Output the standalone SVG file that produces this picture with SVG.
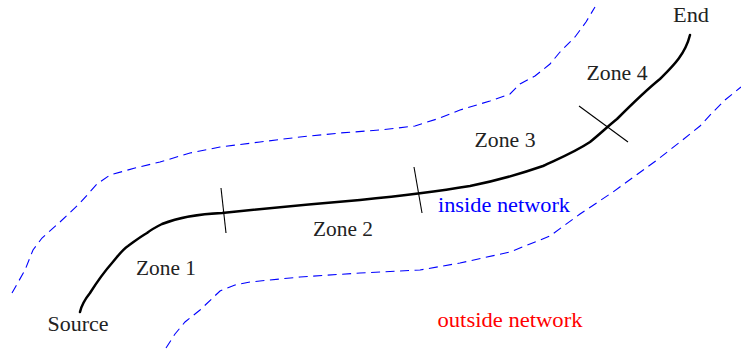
<svg xmlns="http://www.w3.org/2000/svg" width="741" height="354" viewBox="0 0 741 354">
<style>
text{font-family:"Liberation Serif","Times New Roman",serif;font-size:20px;text-anchor:middle;fill:#222}
.dash{fill:none;stroke:#0000ff;stroke-width:1.1;stroke-dasharray:9 5.5}
.main{fill:none;stroke:#000;stroke-width:2.5;stroke-linejoin:round;stroke-linecap:round}
.tick{stroke:#000;stroke-width:1.1}
</style>
<rect width="741" height="354" fill="#fff"/>
<g id="boundaries">
<polyline class="dash" points="12,293 25,270 33,250 42,238 60,222 80,203 97,184 110,175 135,168 160,162 190,153 220,147 260,142 300,137 340,133 380,130 415,126 440,118 460,110 490,101 510,94 520,84 535,76 550,64 560,52 575,37 586,22 595,7"/>
<polyline class="dash" points="166,348 175,334 185,322 200,310 220,291 235,285 250,282 300,277 360,273 420,270 460,263 510,252 550,236 580,214 613,192 635,176 657,160 680,142 700,126 713,112 725,100 741,87"/>
</g>
<g id="connectors">
<path class="main" d="M80,312 C82,303 86,298 90,293 C97,282 104,272 112,263 C118,256 122,250 128,246 C135,241 140,237 147,233 C152,229 156,227 162,224 C180,217 200,214 222,213 C260,209 300,205 360,200 C400,196 440,191 470,186 C495,181 520,174 543,166 C560,158 575,152 590,142 C600,134 607,127 617,119 C630,106 645,91 660,79 C672,67 685,55 690,35"/>
<line class="tick" x1="221" y1="188" x2="226" y2="233"/>
<line class="tick" x1="414" y1="167" x2="422" y2="213"/>
<line class="tick" x1="579" y1="106" x2="628" y2="142"/>
</g>
<g id="source"><text x="78" y="331" textLength="61" lengthAdjust="spacingAndGlyphs">Source</text></g>
<g id="end"><text x="691" y="22" textLength="36" lengthAdjust="spacingAndGlyphs">End</text></g>
<g id="zone1"><text x="166" y="275" textLength="60" lengthAdjust="spacingAndGlyphs">Zone 1</text></g>
<g id="zone2"><text x="343" y="236" textLength="60" lengthAdjust="spacingAndGlyphs">Zone 2</text></g>
<g id="zone3"><text x="505" y="147" textLength="61" lengthAdjust="spacingAndGlyphs">Zone 3</text></g>
<g id="zone4"><text x="617" y="80" textLength="61" lengthAdjust="spacingAndGlyphs">Zone 4</text></g>
<g id="inside"><text x="504" y="212" textLength="132" lengthAdjust="spacingAndGlyphs" style="fill:#0000ff">inside network</text></g>
<g id="outside"><text x="510" y="327" textLength="145" lengthAdjust="spacingAndGlyphs" style="fill:#ff0000">outside network</text></g>
</svg>
